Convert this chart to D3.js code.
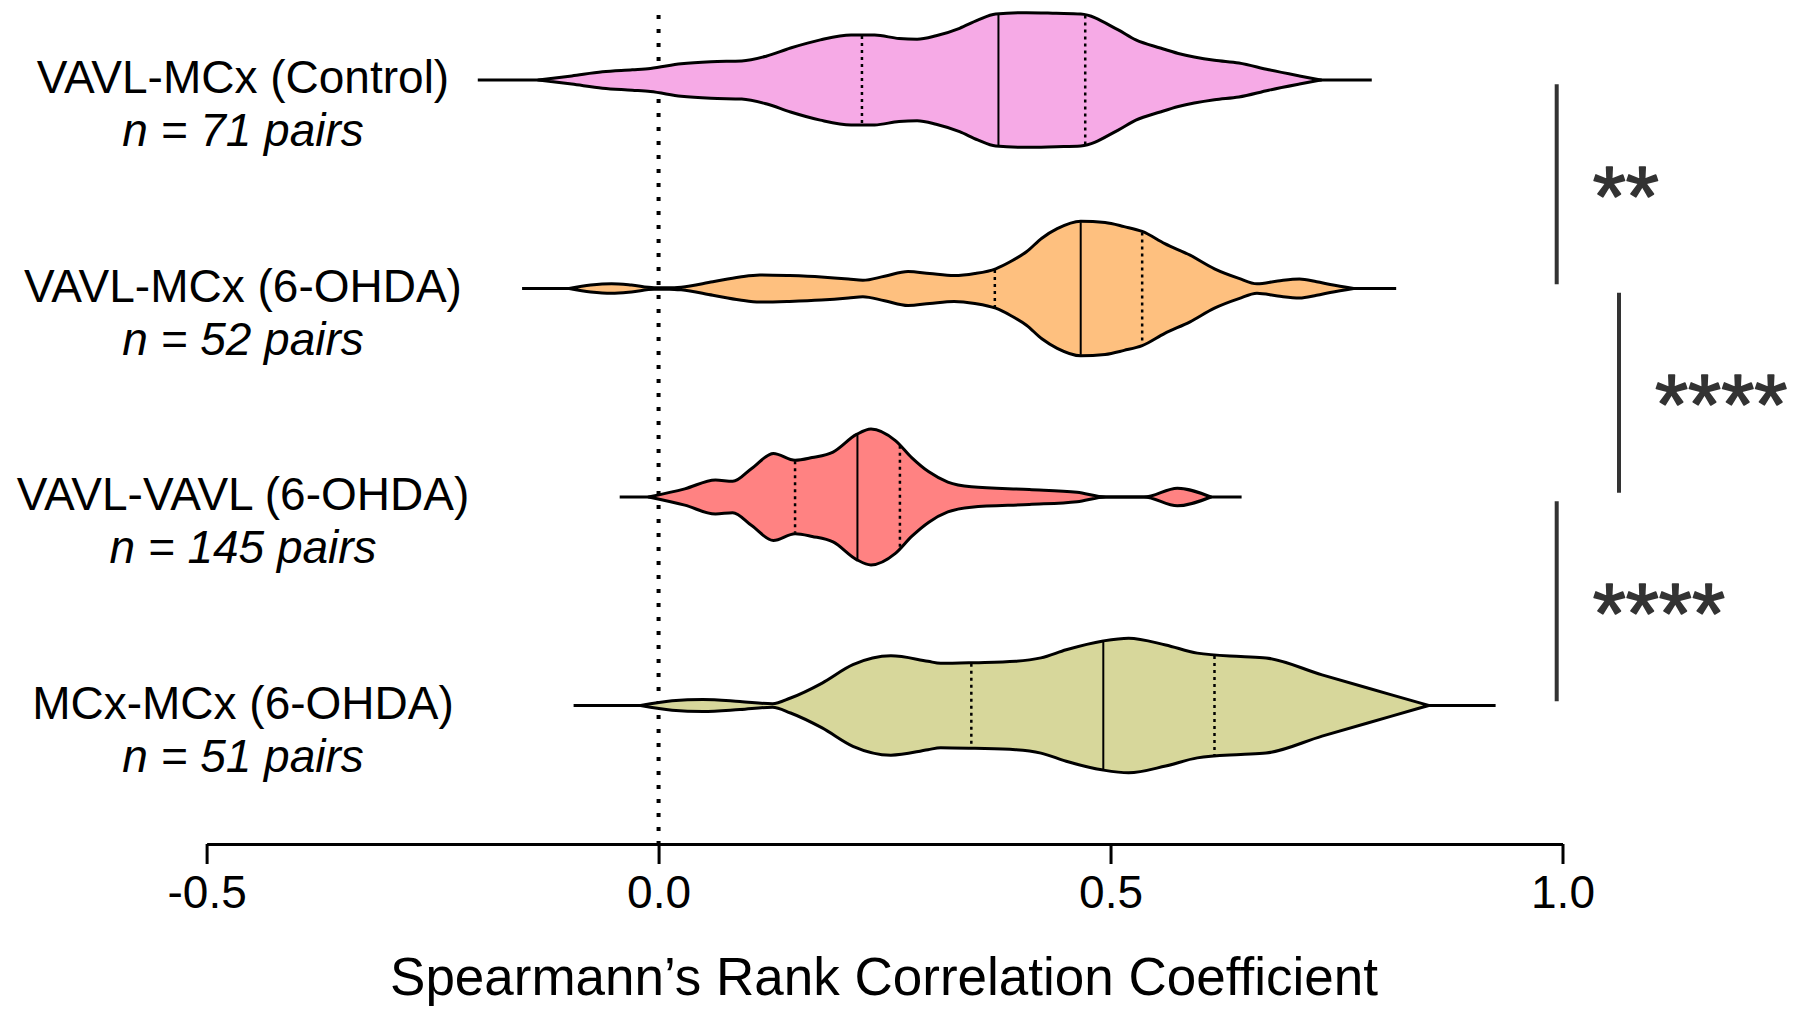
<!DOCTYPE html>
<html>
<head>
<meta charset="utf-8">
<script src="https://cdn.jsdelivr.net/npm/d3@7"></script>
<style>
  html, body { margin: 0; padding: 0; background: #fff; }
  svg { display: block; }
</style>
</head>
<body>
<script>
// ---------------- DATA ----------------
const categories = ["VAVL-MCx (Control)", "VAVL-MCx (6-OHDA)", "VAVL-VAVL (6-OHDA)", "MCx-MCx (6-OHDA)"];
const nLabels = ["n = 71 pairs", "n = 52 pairs", "n = 145 pairs", "n = 51 pairs"];
const fillColors = ["#F6AAE6", "#FEC07F", "#FF8282", "#D7D79B"];

// density profiles [value, relative density]
const densityControl = [
  [-0.133, 0], [-0.096, 0.06], [-0.062, 0.12], [-0.029, 0.15], [-0.009, 0.17], [0.025, 0.24],
  [0.058, 0.27], [0.092, 0.28], [0.119, 0.35], [0.146, 0.47], [0.179, 0.59], [0.213, 0.66],
  [0.239, 0.66], [0.266, 0.61], [0.286, 0.60], [0.307, 0.65], [0.333, 0.76], [0.353, 0.88],
  [0.373, 0.97], [0.407, 0.99], [0.440, 0.98], [0.467, 0.97], [0.508, 0.74], [0.528, 0.59],
  [0.555, 0.47], [0.575, 0.39], [0.615, 0.29], [0.642, 0.25], [0.675, 0.15], [0.709, 0.06], [0.733, 0]
];
const densityMcx6 = [
  [-0.099, 0], [-0.075, 0.05], [-0.052, 0.07], [-0.030, 0.05], [-0.005, 0.01], [0.012, 0.01],
  [0.025, 0.02], [0.060, 0.10], [0.090, 0.17], [0.112, 0.20], [0.145, 0.19], [0.180, 0.17],
  [0.210, 0.14], [0.226, 0.12], [0.250, 0.18], [0.276, 0.25], [0.300, 0.22], [0.327, 0.19],
  [0.350, 0.22], [0.373, 0.29], [0.390, 0.40], [0.407, 0.54], [0.424, 0.74], [0.441, 0.88],
  [0.467, 0.99], [0.494, 0.97], [0.515, 0.91], [0.535, 0.84], [0.560, 0.66], [0.588, 0.49],
  [0.615, 0.29], [0.642, 0.15], [0.662, 0.07], [0.685, 0.11], [0.709, 0.14], [0.728, 0.10],
  [0.743, 0.06], [0.769, 0]
];
const densityVavl6 = [
  [-0.011, 0], [0.029, 0.12], [0.063, 0.25], [0.082, 0.23], [0.103, 0.42], [0.127, 0.64],
  [0.151, 0.54], [0.170, 0.58], [0.193, 0.66], [0.219, 0.92], [0.235, 1.00], [0.262, 0.83],
  [0.280, 0.58], [0.299, 0.37], [0.320, 0.22], [0.346, 0.15], [0.410, 0.11], [0.463, 0.07],
  [0.495, 0], [0.537, 0], [0.574, 0.13], [0.611, 0]
];
const densityMcxMcx6 = [
  [-0.020, 0], [0.015, 0.07], [0.049, 0.09], [0.090, 0.06], [0.126, 0.025], [0.146, 0.11],
  [0.181, 0.33], [0.215, 0.60], [0.257, 0.73], [0.298, 0.65], [0.312, 0.62], [0.350, 0.63],
  [0.395, 0.65], [0.423, 0.70], [0.451, 0.82], [0.492, 0.95], [0.520, 0.99], [0.561, 0.89],
  [0.596, 0.77], [0.644, 0.72], [0.672, 0.70], [0.734, 0.45], [0.810, 0.16], [0.852, 0]
];
const densities = [densityControl, densityMcx6, densityVavl6, densityMcxMcx6];

const rangeMin = [-0.200, -0.151, -0.043, -0.094];
const rangeMax = [0.789, 0.816, 0.645, 0.926];
const quartile1 = [0.225, 0.372, 0.151, 0.346];
const medians = [0.376, 0.467, 0.220, 0.492];
const quartile3 = [0.472, 0.535, 0.267, 0.615];

const tickValues = [-0.5, 0.0, 0.5, 1.0];
const tickLabels = ["-0.5", "0.0", "0.5", "1.0"];
const axisTitle = "Spearmann\u2019s Rank Correlation Coefficient";

// significance comparisons: [from group, to group, label, column]
const sigFrom = [0, 1, 2];
const sigTo = [1, 2, 3];
const sigLabels = ["**", "****", "****"];
const sigColumn = [0, 1, 0];

// ---------------- LAYOUT ----------------
const W = 1800, H = 1017;
const FONT = "'Liberation Sans', Arial, Helvetica, sans-serif";
const axisY = 844;

const svg = d3.select("body").append("svg")
  .attr("width", W).attr("height", H)
  .style("font-family", FONT);

const x = d3.scaleLinear().domain([-0.5, 1.0]).range([206.6, 1562.5]);
const y = d3.scalePoint().domain(categories).range([80, 705.5]);
const w = d3.scaleLinear().domain([0, 1]).range([0, 68]);

// zero reference line
svg.append("line")
  .attr("x1", x(0)).attr("x2", x(0))
  .attr("y1", 15).attr("y2", axisY)
  .attr("stroke", "#000").attr("stroke-width", 4)
  .attr("stroke-dasharray", "4,10");

function halfWidthAt(profile, v) {
  const topLine = d3.line().x(d => x(d[0])).y(d => -w(d[1])).curve(d3.curveMonotoneX);
  const p = svg.append("path").attr("d", topLine(profile)).attr("fill", "none").attr("stroke", "none");
  const node = p.node();
  const total = node.getTotalLength();
  const X = x(v);
  let lo = 0, hi = total;
  for (let k = 0; k < 40; k++) {
    const mid = (lo + hi) / 2;
    if (node.getPointAtLength(mid).x < X) lo = mid; else hi = mid;
  }
  const pt = node.getPointAtLength((lo + hi) / 2);
  p.remove();
  return -pt.y;
}

categories.forEach((c, i) => {
  const cy = y(c);
  const g = svg.append("g");
  // range line
  g.append("line")
    .attr("x1", x(rangeMin[i])).attr("x2", x(rangeMax[i]))
    .attr("y1", cy).attr("y2", cy)
    .attr("stroke", "#000").attr("stroke-width", 3);
  // violin
  const area = d3.area()
    .x(d => x(d[0]))
    .y0(d => cy - w(d[1]))
    .y1(d => cy + w(d[1]))
    .curve(d3.curveMonotoneX);
  g.append("path")
    .datum(densities[i])
    .attr("d", area)
    .attr("fill", fillColors[i])
    .attr("stroke", "#000").attr("stroke-width", 3)
    .attr("stroke-linejoin", "round");
  // quartiles + median
  [[quartile1[i], true], [medians[i], false], [quartile3[i], true]].forEach(([v, dashed]) => {
    const h = halfWidthAt(densities[i], v) - 1;
    g.append("line")
      .attr("x1", x(v)).attr("x2", x(v))
      .attr("y1", cy - h).attr("y2", cy + h)
      .attr("stroke", "#000").attr("stroke-width", dashed ? 2.5 : 2)
      .attr("stroke-dasharray", dashed ? "3,4" : null);
  });
  // category labels
  svg.append("text")
    .attr("x", 243).attr("y", cy + 13)
    .attr("text-anchor", "middle")
    .attr("font-size", 46).attr("fill", "#000")
    .text(c);
  svg.append("text")
    .attr("x", 243).attr("y", cy + 66)
    .attr("text-anchor", "middle")
    .attr("font-size", 46).attr("font-style", "italic").attr("fill", "#000")
    .text(nLabels[i]);
});

// x axis
const axis = d3.axisBottom(x)
  .tickValues(tickValues)
  .tickFormat((d, i) => tickLabels[i])
  .tickSize(20).tickSizeOuter(0);
const ga = svg.append("g")
  .attr("transform", `translate(0,${axisY})`)
  .call(axis);
ga.attr("font-size", null).attr("font-family", null);
ga.select(".domain").attr("stroke", "#000").attr("stroke-width", 3);
ga.selectAll(".tick line").attr("stroke", "#000").attr("stroke-width", 3);
ga.selectAll(".tick text")
  .attr("y", 64).attr("dy", 0)
  .attr("font-size", 46).attr("fill", "#000");

svg.append("text")
  .attr("x", 884).attr("y", 995)
  .attr("text-anchor", "middle")
  .attr("font-size", 53).attr("fill", "#000")
  .text(axisTitle);

// significance bars
const barX = [1556.7, 1619];
const starSize = 85;
sigFrom.forEach((f, k) => {
  const mid = (y(categories[f]) + y(categories[sigTo[k]])) / 2;
  const bx = barX[sigColumn[k]];
  svg.append("line")
    .attr("x1", bx).attr("x2", bx)
    .attr("y1", mid - 100).attr("y2", mid + 100)
    .attr("stroke", "#333").attr("stroke-width", 4);
  svg.append("text")
    .attr("x", bx + 36).attr("y", mid - 8 + starSize * 0.58)
    .attr("font-size", starSize).attr("fill", "#333")
    .attr("stroke", "#333").attr("stroke-width", 1.6).attr("stroke-linejoin", "round")
    .text(sigLabels[k]);
});
</script>
</body>
</html>
